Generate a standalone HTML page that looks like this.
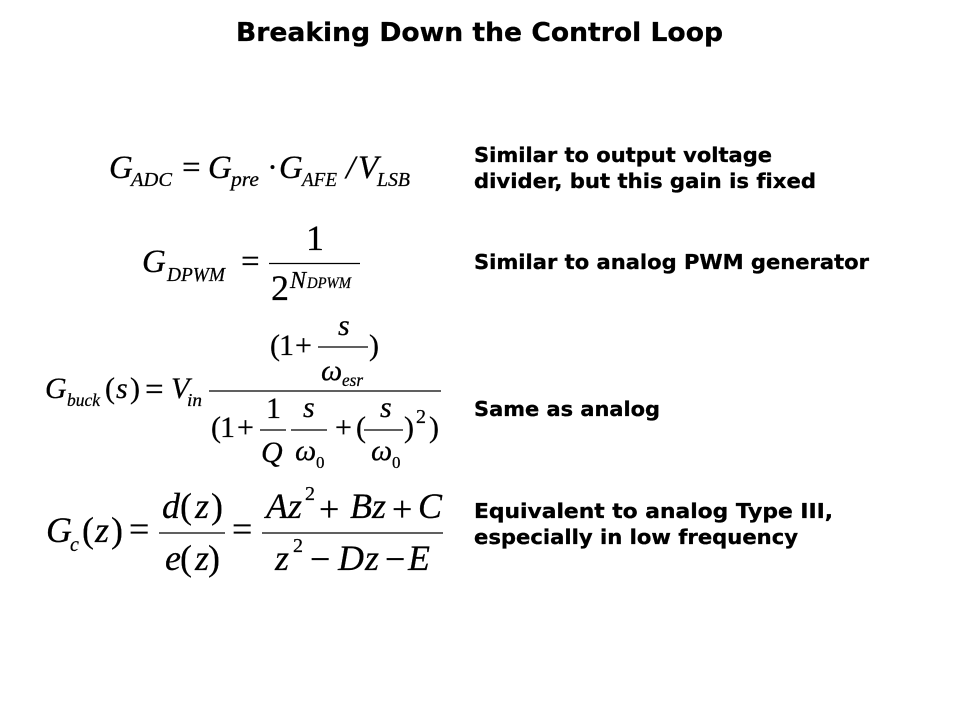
<!DOCTYPE html>
<html>
<head>
<meta charset="utf-8">
<style>
html,body{margin:0;padding:0;background:#fff;width:960px;height:720px;overflow:hidden}
svg{display:block}
text{font-variant-ligatures:none}
.t{font-family:"DejaVu Sans",sans-serif;font-weight:bold;fill:#000;stroke:#000;stroke-width:.3px}
.h{font-size:26px}
.b{font-size:20px}
.m{font-family:"Liberation Serif",serif;fill:#000;stroke:#000;stroke-width:.25px}
.i{font-style:italic}
.s33{font-size:33px}
.s36{font-size:36px}
.s30{font-size:30px}
.s24{font-size:24px}
.s20{font-size:20px}
.s18{font-size:18px}
.s17{font-size:17px}
.s16{font-size:16px}
line{stroke:#000;stroke-width:1.3}
</style>
</head>
<body>
<svg width="960" height="720" viewBox="0 0 960 720" xmlns="http://www.w3.org/2000/svg">
<text class="t h" x="236" y="41" textLength="487" lengthAdjust="spacingAndGlyphs">Breaking Down the Control Loop</text>
<text class="t b" x="474" y="162" textLength="298" lengthAdjust="spacingAndGlyphs">Similar to output voltage</text>
<text class="t b" x="474" y="188" textLength="342" lengthAdjust="spacingAndGlyphs">divider, but this gain is fixed</text>
<text class="t b" x="474" y="269" textLength="395" lengthAdjust="spacingAndGlyphs">Similar to analog PWM generator</text>
<text class="t b" x="474" y="416" textLength="186" lengthAdjust="spacingAndGlyphs">Same as analog</text>
<text class="t b" x="474" y="518" textLength="359" lengthAdjust="spacingAndGlyphs">Equivalent to analog Type III,</text>
<text class="t b" x="474" y="544" textLength="324" lengthAdjust="spacingAndGlyphs">especially in low frequency</text>

<!-- G_ADC -->
<text class="m i s33" x="109" y="178">G</text>
<text class="m i s20" x="131" y="186" textLength="41" lengthAdjust="spacingAndGlyphs">ADC</text>
<text class="m s33" x="182" y="178">=</text>
<text class="m i s33" x="208" y="178">G</text>
<text class="m i s20" x="231" y="186" textLength="28" lengthAdjust="spacingAndGlyphs">pre</text>
<text class="m s33" x="267" y="178">·</text>
<text class="m i s33" x="279" y="178">G</text>
<text class="m i s20" x="302" y="186" textLength="35" lengthAdjust="spacingAndGlyphs">AFE</text>
<text class="m i s33" x="346" y="178">/</text>
<text class="m i s33" x="358" y="178">V</text>
<text class="m i s20" x="377" y="186" textLength="33" lengthAdjust="spacingAndGlyphs">LSB</text>

<!-- G_DPWM -->
<text class="m i s33" x="142" y="272">G</text>
<text class="m i s20" x="167" y="281" textLength="58" lengthAdjust="spacingAndGlyphs">DPWM</text>
<text class="m s33" x="241" y="272">=</text>
<line x1="269" y1="263.5" x2="360" y2="263.5"/>
<text class="m s36" x="306" y="250">1</text>
<text class="m s36" x="271" y="300">2</text>
<text class="m i s24" x="290" y="288">N</text>
<text class="m i s16" x="307" y="288" textLength="44" lengthAdjust="spacingAndGlyphs">DPWM</text>

<!-- G_buck -->
<text class="m i s30" x="45" y="398">G</text>
<text class="m i s18" x="67" y="406" textLength="33" lengthAdjust="spacingAndGlyphs">buck</text>
<text class="m s30" x="105" y="398">(</text>
<text class="m i s30" x="116" y="398">s</text>
<text class="m s30" x="130" y="398">)</text>
<text class="m s33" x="145" y="400">=</text>
<text class="m i s30" x="171" y="398">V</text>
<text class="m i s18" x="187" y="406" textLength="15" lengthAdjust="spacingAndGlyphs">in</text>
<line x1="209" y1="391" x2="441" y2="391"/>
<text class="m s30" x="270" y="355">(</text>
<text class="m s30" x="279" y="355">1</text>
<text class="m s30" x="295" y="355">+</text>
<line x1="318" y1="347" x2="368" y2="347"/>
<text class="m i s30" x="338" y="335">s</text>
<text class="m i s30" x="321" y="380">ω</text>
<text class="m i s18" x="342" y="386" textLength="21" lengthAdjust="spacingAndGlyphs">esr</text>
<text class="m s30" x="369" y="355">)</text>

<text class="m s30" x="211" y="437">(</text>
<text class="m s30" x="220" y="437">1</text>
<text class="m s30" x="237" y="437">+</text>
<line x1="260" y1="430" x2="286" y2="430"/>
<text class="m s30" x="266" y="418">1</text>
<text class="m i s30" x="261" y="462">Q</text>
<line x1="291" y1="430" x2="327" y2="430"/>
<text class="m i s30" x="303" y="417">s</text>
<text class="m i s30" x="295" y="460">ω</text>
<text class="m s17" x="316" y="468">0</text>
<text class="m s30" x="335" y="437">+</text>
<text class="m s30" x="356" y="437">(</text>
<line x1="364" y1="430" x2="403" y2="430"/>
<text class="m i s30" x="380" y="417">s</text>
<text class="m i s30" x="371" y="460">ω</text>
<text class="m s17" x="392" y="468">0</text>
<text class="m s30" x="404" y="437">)</text>
<text class="m s20" x="416" y="423">2</text>
<text class="m s30" x="429" y="437">)</text>

<!-- G_c -->
<text class="m i s36" x="46" y="542">G</text>
<text class="m i s20" x="70" y="551">c</text>
<text class="m s36" x="82" y="542">(</text>
<text class="m i s36" x="95" y="542">z</text>
<text class="m s36" x="111" y="542">)</text>
<text class="m s36" x="129" y="541">=</text>
<line x1="159" y1="533" x2="225" y2="533"/>
<text class="m i s36" x="162" y="518">d</text>
<text class="m s36" x="180" y="518">(</text>
<text class="m i s36" x="195" y="518">z</text>
<text class="m s36" x="211" y="518">)</text>
<text class="m i s36" x="165" y="570">e</text>
<text class="m s36" x="180" y="570">(</text>
<text class="m i s36" x="195" y="570">z</text>
<text class="m s36" x="208" y="570">)</text>
<text class="m s36" x="232" y="541">=</text>
<line x1="262" y1="533" x2="443" y2="533"/>
<text class="m i s36" x="266" y="518">A</text>
<text class="m i s36" x="288" y="518">z</text>
<text class="m s20" x="305" y="500">2</text>
<text class="m s36" x="319" y="521">+</text>
<text class="m i s36" x="350" y="518">B</text>
<text class="m i s36" x="372" y="518">z</text>
<text class="m s36" x="392" y="521">+</text>
<text class="m i s36" x="418" y="518">C</text>
<text class="m i s36" x="275" y="570">z</text>
<text class="m s20" x="293" y="552">2</text>
<text class="m s36" x="310" y="571">−</text>
<text class="m i s36" x="338" y="570">D</text>
<text class="m i s36" x="365" y="570">z</text>
<text class="m s36" x="385" y="571">−</text>
<text class="m i s36" x="408" y="570">E</text>
</svg>
</body>
</html>
